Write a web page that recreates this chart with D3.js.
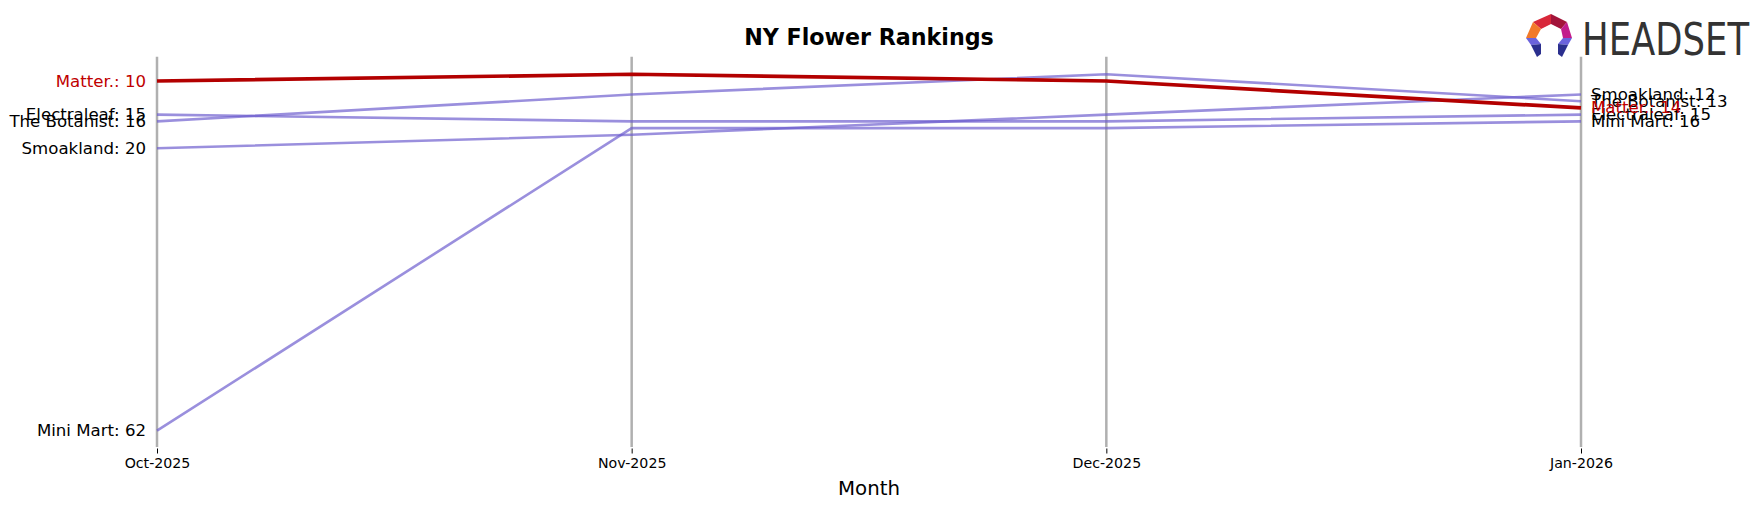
<!DOCTYPE html>
<html><head><meta charset="utf-8">
<script src="https://cdn.jsdelivr.net/npm/d3@7"></script>
<style>body{margin:0;background:#fff;}svg{display:block;font-family:"DejaVu Sans",sans-serif;}</style>
</head><body><svg id="c" width="1763" height="507"></svg>
<script>
const months = ["Oct-2025","Nov-2025","Dec-2025","Jan-2026"];
const brands = ["Matter.","The Botanist","Electraleaf","Smoakland","Mini Mart"];
const matterRanks = [10, 9, 10, 14];
const botanistRanks = [16, 12, 9, 13];
const electraleafRanks = [15, 16, 16, 15];
const smoaklandRanks = [20, 18, 15, 12];
const miniMartRanks = [62, 17, 17, 16];
const title = "NY Flower Rankings";
const xTitle = "Month";

const series = [
  {name:"The Botanist", ranks:botanistRanks, hi:false},
  {name:"Electraleaf", ranks:electraleafRanks, hi:false},
  {name:"Smoakland", ranks:smoaklandRanks, hi:false},
  {name:"Mini Mart", ranks:miniMartRanks, hi:false},
  {name:"Matter.", ranks:matterRanks, hi:true}
];

const svg = d3.select("#c");
const x = d3.scalePoint().domain(months).range([157, 1581]);
const y = d3.scaleLinear().domain([10, 62]).range([81, 430.7]);
const yTop = y.invert(56.7), yBot = y.invert(447);

// vertical month lines
svg.append("g").selectAll("line").data(months).join("line")
  .attr("x1", d => x(d)).attr("x2", d => x(d))
  .attr("y1", y(yTop)).attr("y2", y(yBot))
  .attr("stroke", "#b0b0b0").attr("stroke-width", 2.5);

// x axis
const xAxis = svg.append("g").attr("transform", "translate(0,448.5)")
  .call(d3.axisBottom(x).tickSize(5).tickPadding(4));
xAxis.select(".domain").remove();
xAxis.selectAll("text").attr("font-size", "14.2px").attr("font-family", "DejaVu Sans").attr("fill", "#000");
xAxis.selectAll(".tick line").attr("stroke", "#000").attr("stroke-width", 1);

// lines
const line = d3.line().x((d, i) => x(months[i])).y(d => y(d));
svg.append("g").selectAll("path").data(series).join("path")
  .attr("d", d => line(d.ranks))
  .attr("fill", "none")
  .attr("stroke", d => d.hi ? "#b30000" : "#6a5acd")
  .attr("stroke-opacity", d => d.hi ? 1 : 0.68)
  .attr("stroke-width", d => d.hi ? 3.7 : 2.6)
  .attr("stroke-linejoin", "round");

// left labels
svg.append("g").selectAll("text").data(series).join("text")
  .attr("x", x(months[0]) - 11).attr("y", d => y(d.ranks[0]))
  .attr("text-anchor", "end").attr("dominant-baseline", "central")
  .attr("font-size", "16.6px")
  .attr("fill", d => d.hi ? "#c00000" : "#000")
  .text(d => `${d.name}: ${d.ranks[0]}`);

// right labels
svg.append("g").selectAll("text").data(series).join("text")
  .attr("x", x(months[3]) + 10).attr("y", d => y(d.ranks[3]))
  .attr("text-anchor", "start").attr("dominant-baseline", "central")
  .attr("font-size", "16.6px")
  .attr("fill", d => d.hi ? "#c00000" : "#000")
  .text(d => `${d.name}: ${d.ranks[3]}`);

// title
svg.append("text").attr("x", (x(months[0]) + x(months[3])) / 2).attr("y", 45)
  .attr("text-anchor", "middle").attr("font-size", "22.2px").attr("font-weight", "bold")
  .text(title);

// x title
svg.append("text").attr("x", (x(months[0]) + x(months[3])) / 2).attr("y", 495)
  .attr("text-anchor", "middle").attr("font-size", "19.8px")
  .text(xTitle);

// logo
const logo = svg.append("g");
const polys = [
  {p:[[1533,22],[1551,14],[1551,24],[1541,29]], c:"#d8283a"},
  {p:[[1551,14],[1567,22],[1561,29],[1551,24]], c:"#a3143a"},
  {p:[[1567,22],[1572,38],[1563,38],[1561,29]], c:"#c21c8c"},
  {p:[[1533,22],[1541,29],[1536,38],[1526,38]], c:"#f27a2a"},
  {p:[[1526,38],[1536,38],[1541,44],[1531,45]], c:"#6b63dc"},
  {p:[[1531,45],[1541,44],[1541,54],[1537,57]], c:"#2b2f8e"},
  {p:[[1563,38],[1572,38],[1568,45],[1558,44]], c:"#6b63dc"},
  {p:[[1558,44],[1568,45],[1562,57],[1558,54]], c:"#2b2f8e"}
];
logo.selectAll("polygon").data(polys).join("polygon")
  .attr("points", d => d.p.map(q => q.join(",")).join(" "))
  .attr("fill", d => d.c);
logo.append("text").attr("x", 1582).attr("y", 54.5)
  .attr("font-family", "DejaVu Sans Condensed, DejaVu Sans").attr("font-size", "44px")
  .attr("fill", "#333").attr("textLength", 167).attr("lengthAdjust", "spacingAndGlyphs")
  .text("HEADSET");
</script></body></html>
